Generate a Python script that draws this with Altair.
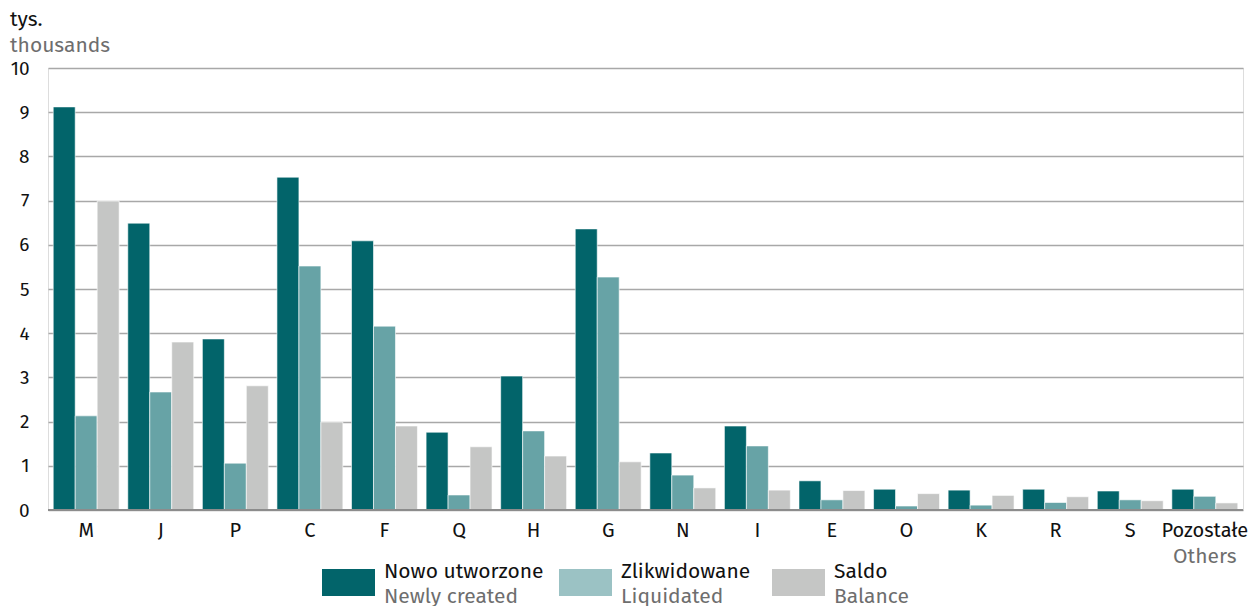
import altair as alt
import pandas as pd

categories = ["M", "J", "P", "C", "F", "Q", "H", "G", "N", "I", "E", "O", "K", "R", "S", "Pozostałe"]
newly_created = [9.12, 6.49, 3.87, 7.53, 6.09, 1.76, 3.03, 6.36, 1.29, 1.90, 0.66, 0.47, 0.45, 0.47, 0.43, 0.47]
liquidated = [2.13, 2.67, 1.06, 5.52, 4.16, 0.34, 1.79, 5.27, 0.79, 1.45, 0.23, 0.09, 0.11, 0.17, 0.23, 0.31]
balance = [6.99, 3.80, 2.81, 1.99, 1.90, 1.43, 1.22, 1.09, 0.50, 0.45, 0.44, 0.37, 0.33, 0.30, 0.21, 0.16]

series_pl = ["Nowo utworzone", "Zlikwidowane", "Saldo"]
series_en = ["Newly created", "Liquidated", "Balance"]
bar_colors = ["#02646a", "#67a3a6", "#c5c6c5"]
legend_colors = ["#02646a", "#9bc2c4", "#c5c6c5"]

FONT = "Fira Sans, Noto Sans, sans-serif"
GRAY_TXT = "#6e6e6e"
W, H = 1195, 442

rows = []
for vals, s in zip([newly_created, liquidated, balance], series_pl):
    for c, v in zip(categories, vals):
        rows.append({"cat": c, "series": s, "value": v})
df = pd.DataFrame(rows)

xscale = alt.Scale(domain=categories, paddingInner=0.116, paddingOuter=0.07)
yscale = alt.Scale(domain=[0, 10])

bars = alt.Chart(df).mark_bar(stroke="white", strokeWidth=0.6).encode(
    x=alt.X("cat:N", scale=xscale, sort=categories,
            axis=alt.Axis(title=None, labelAngle=0, labelFontSize=20, labelFont=FONT,
                          labelColor="#111111", ticks=False, domain=False, labelPadding=10,
                          grid=False, labelOverlap=False, labelBound=False)),
    xOffset=alt.XOffset("series:N", sort=series_pl, scale=alt.Scale(paddingInner=0, paddingOuter=0)),
    y=alt.Y("value:Q", scale=yscale,
            axis=alt.Axis(title=None, values=list(range(0, 11)), labelFontSize=19, labelFont=FONT,
                          labelColor="#111111", ticks=False, domain=False, labelPadding=19,
                          grid=True, gridColor="#a8a8a8", gridWidth=1.5)),
    color=alt.Color("series:N", scale=alt.Scale(domain=series_pl, range=bar_colors), legend=None),
)

zero_df = pd.DataFrame({"v": [0]})
zero_line = alt.Chart(zero_df).mark_rule(color="#8c8c8c", strokeWidth=2).encode(
    y=alt.Y("v:Q", scale=yscale), x=alt.value(0), x2=alt.value(W)
)

others_df = pd.DataFrame({"cat": ["Pozostałe"], "label": ["Others"]})
others = alt.Chart(others_df).mark_text(font=FONT, fontSize=21, color=GRAY_TXT, baseline="alphabetic").encode(
    x=alt.X("cat:N", scale=xscale, sort=categories), y=alt.value(495), text="label:N"
)

layers = [bars, zero_line, others]

# y-axis unit title
unit_df = pd.DataFrame({"pl": ["tys."], "en": ["thousands"]})
layers.append(alt.Chart(unit_df).mark_text(font=FONT, fontSize=21, color="#111111", align="left",
                                           baseline="alphabetic").encode(
    x=alt.value(-38), y=alt.value(-42), text="pl:N"))
layers.append(alt.Chart(unit_df).mark_text(font=FONT, fontSize=21, color=GRAY_TXT, align="left",
                                           baseline="alphabetic").encode(
    x=alt.value(-38), y=alt.value(-16), text="en:N"))

# manual bilingual legend
legend_x = [274, 511, 724]
for i in range(3):
    ld = pd.DataFrame({"pl": [series_pl[i]], "en": [series_en[i]]})
    x0 = legend_x[i]
    layers.append(alt.Chart(ld).mark_rect(color=legend_colors[i]).encode(
        x=alt.value(x0), x2=alt.value(x0 + 53), y=alt.value(501), y2=alt.value(528)))
    layers.append(alt.Chart(ld).mark_text(font=FONT, fontSize=21, color="#111111", align="left",
                                          baseline="alphabetic").encode(
        x=alt.value(x0 + 62), y=alt.value(510), text="pl:N"))
    layers.append(alt.Chart(ld).mark_text(font=FONT, fontSize=21, color=GRAY_TXT, align="left",
                                          baseline="alphabetic").encode(
        x=alt.value(x0 + 62), y=alt.value(535), text="en:N"))

chart = alt.layer(*layers).properties(
    width=W, height=H,
    autosize=alt.AutoSizeParams(type="none"),
    padding={"left": 40, "top": 60, "right": 5, "bottom": 96},
).configure_view(stroke=None).configure(background="white")

chart.save("out.html", embed_options={"renderer": "svg", "actions": False})
